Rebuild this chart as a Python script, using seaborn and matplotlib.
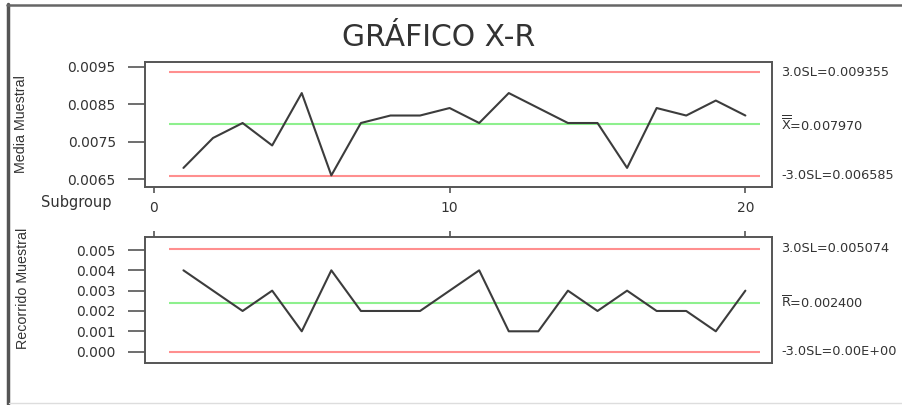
import matplotlib
matplotlib.use("Agg")
import matplotlib.pyplot as plt
from matplotlib.lines import Line2D
import numpy as np
import pandas as pd
import seaborn as sns

# Subgroup numbers and the measured statistics per subgroup
subgroups = list(range(1, 21))
sample_means = [0.0068, 0.0076, 0.0080, 0.0074, 0.0088, 0.0066, 0.0080, 0.0082, 0.0082, 0.0084,
                0.0080, 0.0088, 0.0084, 0.0080, 0.0080, 0.0068, 0.0084, 0.0082, 0.0086, 0.0082]
sample_ranges = [0.004, 0.003, 0.002, 0.003, 0.001, 0.004, 0.002, 0.002, 0.002, 0.003,
                 0.004, 0.001, 0.001, 0.003, 0.002, 0.003, 0.002, 0.002, 0.001, 0.003]

# Control limits (n = 5: A2 = 0.577, D3 = 0, D4 = 2.114)
xbar_center = 0.007970
xbar_ucl = 0.009355
xbar_lcl = 0.006585
r_center = 0.002400
r_ucl = 0.005074
r_lcl = 0.0

xbar_labels = ["3.0SL=0.009355", r"$\overline{\overline{\mathrm{X}}}$=0.007970", "-3.0SL=0.006585"]
r_labels = ["3.0SL=0.005074", r"$\overline{\mathrm{R}}$=0.002400", "-3.0SL=0.00E+00"]

xbar_ticks = [0.0065, 0.0075, 0.0085, 0.0095]
xbar_ticklabels = ["0.0065", "0.0075", "0.0085", "0.0095"]
r_ticks = [0.000, 0.001, 0.002, 0.003, 0.004, 0.005]
r_ticklabels = ["0.000", "0.001", "0.002", "0.003", "0.004", "0.005"]
x_ticks = [0, 10, 20]

df = pd.DataFrame({"Subgroup": subgroups, "Media": sample_means, "Recorrido": sample_ranges})

sns.set_style("white")
plt.rcParams["font.family"] = ["DejaVu Sans"]
plt.rcParams["mathtext.fontset"] = "dejavusans"

W, H = 902, 405
fig = plt.figure(figsize=(W / 100, H / 100), dpi=100)
fig.patch.set_facecolor("white")

def fx(px):
    return px / W

def fy(py):
    return 1 - py / H

ax1 = fig.add_axes([fx(145), fy(187), fx(772) - fx(145), fy(62) - fy(187)])
ax2 = fig.add_axes([fx(145), fy(363), fx(772) - fx(145), fy(237) - fy(363)])

LINE = "#3c3c3c"
RED = "#ff8f8f"
GREEN = "#8ef08e"
SPINE = "#555555"
TEXT = "#333333"
YLABEL_FONT = ["Liberation Sans Narrow", "Liberation Sans"]

def style_axes(ax):
    for s in ax.spines.values():
        s.set_color(SPINE)
        s.set_linewidth(1.4)
    ax.set_xlim(-0.3, 20.9)
    ax.tick_params(axis="y", direction="out", length=12, width=1.2, pad=9,
                   color=SPINE, labelsize=10, labelcolor=TEXT, left=True)
    ax.set_xlabel("")

def limit_labels(ax, values, labels):
    for y, lab in zip(values, labels):
        ax.annotate(lab, xy=(1, y), xycoords=("axes fraction", "data"),
                    xytext=(9, 0), textcoords="offset pixels",
                    ha="left", va="center", fontsize=9.3, color=TEXT,
                    annotation_clip=False)

# X-bar chart
for y, c in [(xbar_ucl, RED), (xbar_center, GREEN), (xbar_lcl, RED)]:
    ax1.hlines(y, 0.5, 20.5, color=c, lw=1.5, zorder=1)
sns.lineplot(data=df, x="Subgroup", y="Media", ax=ax1, color=LINE, lw=1.5, zorder=2)
style_axes(ax1)
ax1.set_ylim(0.00629, 0.00963)
ax1.set_yticks(xbar_ticks, xbar_ticklabels)
ax1.set_xticks(x_ticks, [str(t) for t in x_ticks])
ax1.tick_params(axis="x", direction="out", length=4, width=1.2, pad=6,
                color=SPINE, labelsize=10, labelcolor=TEXT, bottom=True)
ax1.set_ylabel("Media Muestral", fontsize=10.3, color=TEXT, family=YLABEL_FONT)
ax1.yaxis.set_label_coords((28 - 145) / 627, 0.5)
limit_labels(ax1, [xbar_ucl, xbar_center, xbar_lcl], xbar_labels)

# Range chart
for y, c in [(r_ucl, RED), (r_center, GREEN), (r_lcl, RED)]:
    ax2.hlines(y, 0.5, 20.5, color=c, lw=1.5, zorder=1)
sns.lineplot(data=df, x="Subgroup", y="Recorrido", ax=ax2, color=LINE, lw=1.5, zorder=2)
style_axes(ax2)
ax2.set_ylim(-0.00056, 0.00564)
ax2.set_yticks(r_ticks, r_ticklabels)
ax2.set_xticks(x_ticks)
ax2.tick_params(axis="x", direction="out", length=4, width=1.2, color=SPINE,
                bottom=False, top=True, labelbottom=False, labeltop=False)
ax2.set_ylabel("Recorrido Muestral", fontsize=10.3, color=TEXT, family=YLABEL_FONT)
ax2.yaxis.set_label_coords((30 - 145) / 627, (363 - 288.5) / 126)
limit_labels(ax2, [r_ucl, r_center, r_lcl], r_labels)

# Title and subgroup caption
fig.text(fx(439), fy(38), "GRÁFICO X-R", ha="center", va="center",
         fontsize=21.5, color=TEXT)
fig.text(fx(76), fy(203), "Subgroup", ha="center", va="center",
         fontsize=10.5, color=TEXT)

# Window frame around the chart
fig.add_artist(Line2D([fx(8), fx(8)], [fy(4), fy(404)], color="#555555", lw=2.5))
fig.add_artist(Line2D([fx(7), fx(902)], [fy(5), fy(5)], color="#666666", lw=1.8))
fig.add_artist(Line2D([fx(9), fx(902)], [fy(403), fy(403)], color="#dddddd", lw=1.0))

fig.savefig("out.png", dpi=100)
